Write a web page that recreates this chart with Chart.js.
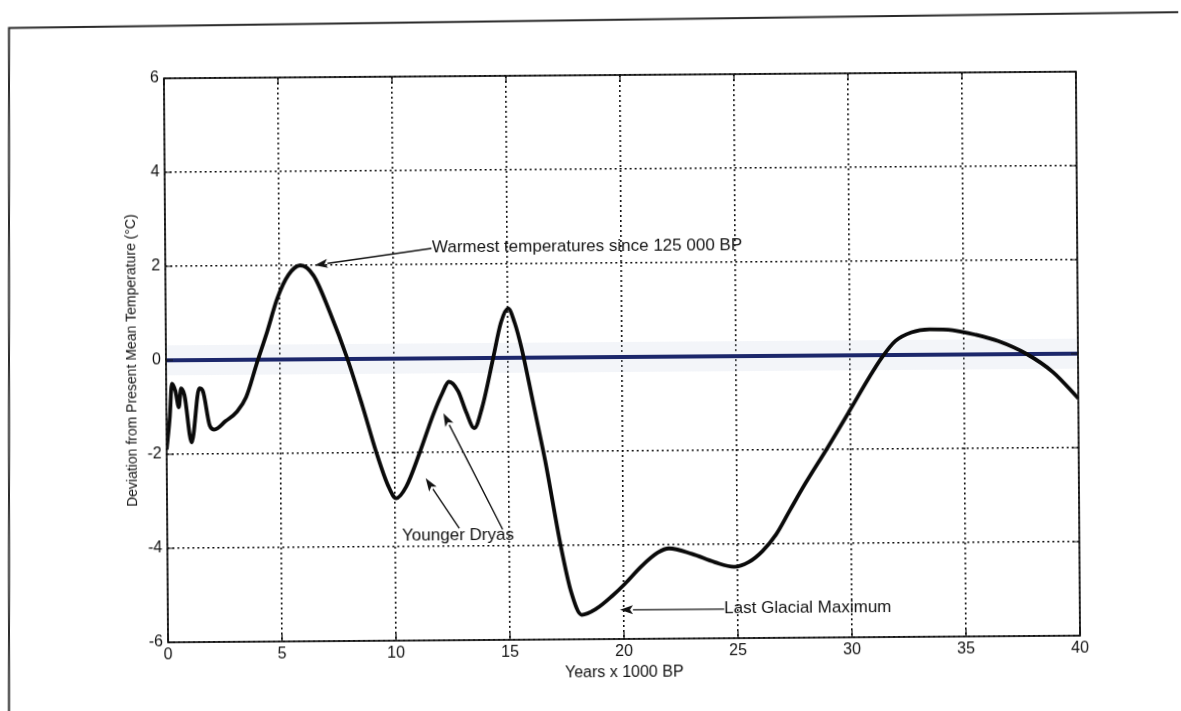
<!DOCTYPE html>
<html>
<head>
<meta charset="utf-8">
<title>Temperature deviation</title>
<script src="https://cdn.jsdelivr.net/npm/chart.js@4.4.0/dist/chart.umd.min.js"></script>
<style>
  html, body { margin: 0; padding: 0; background: #fff; overflow: hidden; }
  #tempChart {
    display: block;
    transform: rotate(-0.42deg);
    transform-origin: 622px 357px;
  }
</style>
</head>
<body>
<canvas id="tempChart" width="1181" height="711"></canvas>
<script>
// years before present (x 1000) and deviation from present mean (°C)
const years = [0, 0.15, 0.25, 0.4, 0.55, 0.65, 0.8, 1.1, 1.45, 1.6, 1.9, 2.1, 2.6, 3.1, 3.5, 4.0, 4.45, 4.9, 5.4, 5.92,
  6.5, 7.2, 7.96, 8.6, 9.2, 9.7, 10.05, 10.5, 11.1, 11.7, 12.1, 12.4, 12.8, 13.15, 13.5, 13.85, 14.35, 14.7, 15.02, 15.3,
  15.6, 15.9, 16.25, 16.6, 17.25, 17.7, 18.15, 18.8, 19.5, 20.05, 20.8, 21.5, 22.0, 23.0, 24.0, 24.85, 25.5, 26.1, 26.7,
  27.3, 28.0, 29.0, 30.0, 30.8, 31.4, 32.0, 32.7, 33.5, 34.5, 35.5, 36.5, 37.75, 38.9, 40];
const deviation = [-1.9, -1.2, -0.5, -0.65, -1.0, -0.6, -0.75, -1.75, -0.6, -0.65, -1.4, -1.48, -1.3, -1.1, -0.8, -0.05, 0.6, 1.3, 1.8, 2.0,
  1.78, 1.0, 0.0, -1.0, -2.0, -2.7, -2.97, -2.72, -2.0, -1.2, -0.75, -0.5, -0.7, -1.15, -1.49, -1.05, 0.0, 0.75, 1.05, 0.75,
  0.2, -0.5, -1.35, -2.2, -4.0, -5.0, -5.48, -5.35, -5.08, -4.83, -4.45, -4.17, -4.08, -4.2, -4.38, -4.48, -4.38, -4.15, -3.8,
  -3.3, -2.72, -1.95, -1.15, -0.5, -0.05, 0.3, 0.48, 0.54, 0.52, 0.42, 0.28, 0.0, -0.39, -0.95];

// present mean reference line
const zeroYears = [0, 40];
const zeroLevel = [0, 0];

const xTicks = [0, 5, 10, 15, 20, 25, 30, 35, 40];
const yTicks = [-6, -4, -2, 0, 2, 4, 6];

// callouts: text anchor [x, y] and arrows [tail, tip] in data units
const warmestLabel = 'Warmest temperatures since 125 000 BP';
const warmestAt = [11.7, 2.36];
const warmestArrows = [[[11.68, 2.34], [6.55, 2.0]]];

const dryasLabel = 'Younger Dryas';
const dryasAt = [10.3, -3.78];
const dryasArrows = [[[12.81, -3.62], [11.35, -2.55]], [[14.71, -3.65], [12.15, -1.17]]];

const lgmLabel = 'Last Glacial Maximum';
const lgmAt = [24.4, -5.36];
const lgmArrows = [[[24.4, -5.38], [19.83, -5.38]]];

const callouts = [
  { text: warmestLabel, at: warmestAt, arrows: warmestArrows },
  { text: dryasLabel, at: dryasAt, arrows: dryasArrows },
  { text: lgmLabel, at: lgmAt, arrows: lgmArrows },
];

const INK = '#121212';
const FONT = "'Liberation Sans', Arial, sans-serif";

// the canvas is tilted with css; page-frame points are mapped back into canvas space
const TILT = -0.42 * Math.PI / 180;
const PIVOT = [622, 357];
function toCanvas(px, py) {
  const dx = px - PIVOT[0], dy = py - PIVOT[1];
  const c = Math.cos(-TILT), s = Math.sin(-TILT);
  return [PIVOT[0] + dx * c - dy * s, PIVOT[1] + dx * s + dy * c];
}

function drawArrow(ctx, x0, y0, x1, y1) {
  const ang = Math.atan2(y1 - y0, x1 - x0);
  const len = 13, half = 4.5;
  const bx = x1 - Math.cos(ang) * len, by = y1 - Math.sin(ang) * len;
  ctx.beginPath();
  ctx.moveTo(x0, y0);
  ctx.lineTo(bx, by);
  ctx.stroke();
  ctx.beginPath();
  ctx.moveTo(x1, y1);
  ctx.lineTo(bx - Math.sin(ang) * half, by + Math.cos(ang) * half);
  ctx.lineTo(x1 - Math.cos(ang) * (len - 3), y1 - Math.sin(ang) * (len - 3));
  ctx.lineTo(bx + Math.sin(ang) * half, by - Math.cos(ang) * half);
  ctx.closePath();
  ctx.fill();
}

const pageFrame = {
  id: 'pageFrame',
  beforeDraw(chart) {
    const ctx = chart.ctx;
    const a = toCanvas(9, 28), b = toCanvas(1190, 12), c = toCanvas(9, 720);
    ctx.save();
    ctx.strokeStyle = '#2b2b2b';
    ctx.lineWidth = 2;
    ctx.beginPath();
    ctx.moveTo(b[0], b[1]);
    ctx.lineTo(a[0], a[1]);
    ctx.lineTo(c[0], c[1]);
    ctx.stroke();
    ctx.restore();
  },
};

const axesBox = {
  id: 'axesBox',
  afterDraw(chart) {
    const { ctx, chartArea: area, scales: { x, y } } = chart;
    ctx.save();
    ctx.strokeStyle = INK;
    ctx.lineWidth = 1.2;
    // inward tick marks on all four sides
    ctx.beginPath();
    xTicks.forEach(v => {
      const px = x.getPixelForValue(v);
      ctx.moveTo(px, area.bottom); ctx.lineTo(px, area.bottom - 7);
      ctx.moveTo(px, area.top); ctx.lineTo(px, area.top + 7);
    });
    yTicks.forEach(v => {
      const py = y.getPixelForValue(v);
      ctx.moveTo(area.left, py); ctx.lineTo(area.left + 7, py);
      ctx.moveTo(area.right, py); ctx.lineTo(area.right - 7, py);
    });
    ctx.stroke();
    ctx.lineWidth = 1.7;
    ctx.strokeRect(area.left, area.top, area.right - area.left, area.bottom - area.top);

    // callout text and arrows
    ctx.fillStyle = INK;
    ctx.strokeStyle = INK;
    ctx.lineWidth = 1.4;
    ctx.font = '17px ' + FONT;
    ctx.textAlign = 'left';
    ctx.textBaseline = 'middle';
    callouts.forEach(note => {
      note.arrows.forEach(([tail, tip]) => {
        drawArrow(ctx,
          x.getPixelForValue(tail[0]), y.getPixelForValue(tail[1]),
          x.getPixelForValue(tip[0]), y.getPixelForValue(tip[1]));
      });
      ctx.fillText(note.text, x.getPixelForValue(note.at[0]), y.getPixelForValue(note.at[1]));
    });
    ctx.restore();
  },
};

Chart.defaults.font.family = FONT;
Chart.defaults.color = INK;

new Chart(document.getElementById('tempChart').getContext('2d'), {
  type: 'line',
  data: {
    datasets: [
      {
        label: 'Deviation',
        data: years.map((v, i) => ({ x: v, y: deviation[i] })),
        borderColor: '#0a0a0a',
        borderWidth: 3.8,
        pointRadius: 0,
        cubicInterpolationMode: 'monotone',
        fill: false,
        order: 0,
      },
      {
        label: 'Present mean',
        data: zeroYears.map((v, i) => ({ x: v, y: zeroLevel[i] })),
        borderColor: '#1c276b',
        borderWidth: 4,
        pointRadius: 0,
        fill: false,
        order: 1,
      },
      {
        label: 'Present mean haze',
        data: zeroYears.map((v, i) => ({ x: v, y: zeroLevel[i] })),
        borderColor: 'rgba(200, 210, 228, 0.22)',
        borderWidth: 30,
        pointRadius: 0,
        fill: false,
        order: 2,
      },
    ],
  },
  options: {
    responsive: false,
    animation: false,
    devicePixelRatio: 1,
    layout: { padding: { top: 75, right: 103, left: 0, bottom: 0 } },
    plugins: {
      legend: { display: false },
      tooltip: { enabled: false },
    },
    scales: {
      x: {
        type: 'linear',
        min: 0,
        max: 40,
        afterFit: scale => { scale.height = 72; },
        afterBuildTicks: scale => { scale.ticks = xTicks.map(v => ({ value: v })); },
        ticks: { font: { size: 16 }, color: INK, padding: 3, maxRotation: 0 },
        grid: { color: '#111', lineWidth: 1.6, drawTicks: false },
        border: { display: false, dash: [2, 3] },
        title: {
          display: true,
          text: 'Years x 1000 BP',
          font: { size: 16 },
          color: INK,
          padding: { top: 0, bottom: 29 },
        },
      },
      y: {
        min: -6,
        max: 6,
        afterFit: scale => { scale.width = 166; },
        afterBuildTicks: scale => { scale.ticks = yTicks.map(v => ({ value: v })); },
        ticks: { font: { size: 16 }, color: INK, padding: 5 },
        grid: { color: '#111', lineWidth: 1.6, drawTicks: false },
        border: { display: false, dash: [2, 3] },
        title: {
          display: true,
          text: 'Deviation from Present Mean Temperature (°C)',
          font: { size: 14 },
          color: INK,
          padding: { top: 124, bottom: 0 },
        },
      },
    },
  },
  plugins: [pageFrame, axesBox],
});
</script>
</body>
</html>
